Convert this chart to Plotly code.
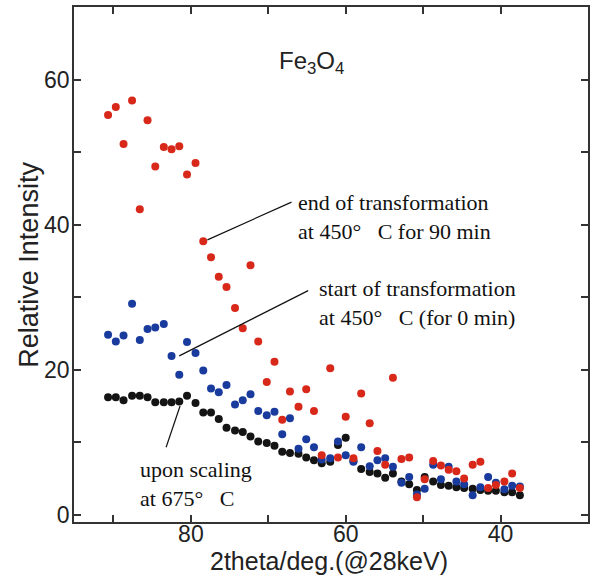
import plotly.graph_objects as go

two_theta = [90.7, 89.7, 88.7, 87.6, 86.6, 85.6, 84.6, 83.5, 82.5, 81.5,
             80.5, 79.4, 78.4, 77.4, 76.4, 75.4, 74.3, 73.3, 72.3, 71.3,
             70.2, 69.2, 68.2, 67.2, 66.1, 65.1, 64.1, 63.1, 62.0, 61.0,
             60.0, 59.0, 58.0, 56.9, 55.9, 54.9, 53.9, 52.8, 51.8, 50.8,
             49.8, 48.7, 47.7, 46.7, 45.7, 44.7, 43.6, 42.6, 41.6, 40.6,
             39.5, 38.5, 37.5]

end_450_90min = [55.1, 56.2, 51.1, 57.1, 42.1, 54.4, 48.0, 50.7, 50.4, 50.8,
                 46.9, 48.5, 37.7, 35.5, 32.8, 31.4, 28.5, 25.7, 34.4, 23.9,
                 18.3, 21.1, 13.1, 17.0, 14.9, 17.3, 14.3, 8.2, 20.2, 7.9,
                 13.5, 7.8, 16.7, 12.6, 8.8, 6.9, 18.9, 7.7, 7.9, 2.4,
                 4.9, 7.4, 6.8, 6.2, 6.0, 5.0, 6.9, 7.3, 3.7, 4.1,
                 4.6, 5.7, 3.7]

start_450_0min = [24.8, 23.9, 24.7, 29.1, 24.1, 25.6, 25.8, 26.3, 21.9, 19.3,
                  23.8, 22.3, 19.9, 17.4, 16.9, 17.9, 15.2, 15.8, 16.6, 14.3,
                  13.7, 14.2, 11.1, 13.3, 9.1, 10.4, 9.3, 7.6, 7.8, 10.1,
                  8.2, 7.3, 9.3, 6.7, 7.5, 7.8, 6.6, 4.4, 5.2, 2.8,
                  3.6, 6.9, 4.9, 6.6, 4.6, 4.2, 2.7, 3.8, 5.2, 4.4,
                  3.5, 4.0, 3.9]

scaling_675 = [16.2, 16.2, 15.8, 16.4, 16.4, 16.2, 15.5, 15.5, 15.5, 15.6,
               16.4, 15.4, 14.1, 14.1, 13.2, 12.0, 11.6, 11.4, 10.8, 10.1,
               9.9, 9.5, 8.7, 8.5, 8.4, 7.9, 7.5, 7.1, 7.3, 9.6,
               10.6, 7.4, 6.3, 5.9, 5.7, 5.1, 5.7, 4.6, 4.2, 3.4,
               5.2, 4.6, 4.1, 4.0, 3.8, 3.7, 3.6, 3.4, 3.3, 3.3,
               3.1, 3.1, 2.7]

x_major = [80, 60, 40]
x_minor = [90, 70, 50]
y_major = [0, 20, 40, 60]
y_minor = [10, 30, 50]

SANS = "Liberation Sans, Arial, sans-serif"
SERIF = "Liberation Serif, Times New Roman, serif"

fig = go.Figure()
for ys, col in [(scaling_675, "#141414"), (start_450_0min, "#1a3b9e"), (end_450_90min, "#d8281a")]:
    fig.add_trace(go.Scatter(x=two_theta, y=ys, mode="markers",
                             marker=dict(size=8, color=col, line=dict(width=0)),
                             showlegend=False))

axis_common = dict(showline=True, linecolor="#333", linewidth=1.5, mirror="allticks",
                   ticks="inside", ticklen=7, tickwidth=1.5, tickcolor="#333",
                   showgrid=False, zeroline=False,
                   tickfont=dict(family=SANS, size=23, color="#222"))

fig.update_xaxes(range=[95.1, 28.7], tickmode="array", tickvals=x_major,
                 ticklabelstandoff=-9,
                 minor=dict(tickmode="array", tickvals=x_minor, ticks="inside",
                            ticklen=7, tickwidth=1.5, tickcolor="#333", showgrid=False),
                 **axis_common)
fig.update_yaxes(range=[-1, 70], tickmode="array", tickvals=y_major,
                 ticklabelstandoff=-2,
                 minor=dict(tickmode="array", tickvals=y_minor, ticks="inside",
                            ticklen=7, tickwidth=1.5, tickcolor="#333", showgrid=False),
                 **axis_common)

# leader lines
fig.add_shape(type="line", xref="x", yref="y", x0=77.86, y0=37.9, x1=67.0, y1=43.1,
              line=dict(color="#111", width=1.2))
fig.add_shape(type="line", xref="x", yref="y", x0=81.5, y0=21.9, x1=64.85, y1=30.9,
              line=dict(color="#111", width=1.2))
fig.add_shape(type="line", xref="x", yref="y", x0=81.4, y0=15.0, x1=83.2, y1=9.3,
              line=dict(color="#111", width=1.2))

ann = []
ann.append(dict(text="end of transformation<br>at 450°\u00a0\u00a0\u00a0C for 90 min", x=66.4, y=41.1,
                xref="x", yref="y", xanchor="left", yanchor="middle", align="left",
                showarrow=False, font=dict(family=SERIF, size=22, color="#111")))
ann.append(dict(text="start of transformation<br>at 450°\u00a0\u00a0\u00a0C (for 0 min)", x=63.7, y=29.2,
                xref="x", yref="y", xanchor="left", yanchor="middle", align="left",
                showarrow=False, font=dict(family=SERIF, size=22, color="#111")))
ann.append(dict(text="upon scaling<br>at 675°\u00a0\u00a0\u00a0C", x=86.8, y=4.2,
                xref="x", yref="y", xanchor="left", yanchor="middle", align="left",
                showarrow=False, font=dict(family=SERIF, size=22, color="#111")))
ann.append(dict(text="Fe<sub>3</sub>O<sub>4</sub>", x=0.463, y=0.893, xref="paper", yref="paper",
                xanchor="center", yanchor="middle", showarrow=False,
                font=dict(family=SANS, size=24, color="#222")))
ann.append(dict(text="2theta/deg.(@28keV)", x=0.496, y=-0.0757, xref="paper", yref="paper",
                xanchor="center", yanchor="middle", showarrow=False,
                font=dict(family=SANS, size=25, color="#222")))
ann.append(dict(text="Relative Intensity", x=-0.0891, y=0.5, xref="paper", yref="paper",
                xanchor="center", yanchor="middle", showarrow=False, textangle=-90,
                font=dict(family=SANS, size=27, color="#222")))

fig.update_layout(width=594, height=581, margin=dict(l=74, r=4, t=7, b=59),
                  paper_bgcolor="white", plot_bgcolor="white", annotations=ann)

fig.write_html("out.html")
